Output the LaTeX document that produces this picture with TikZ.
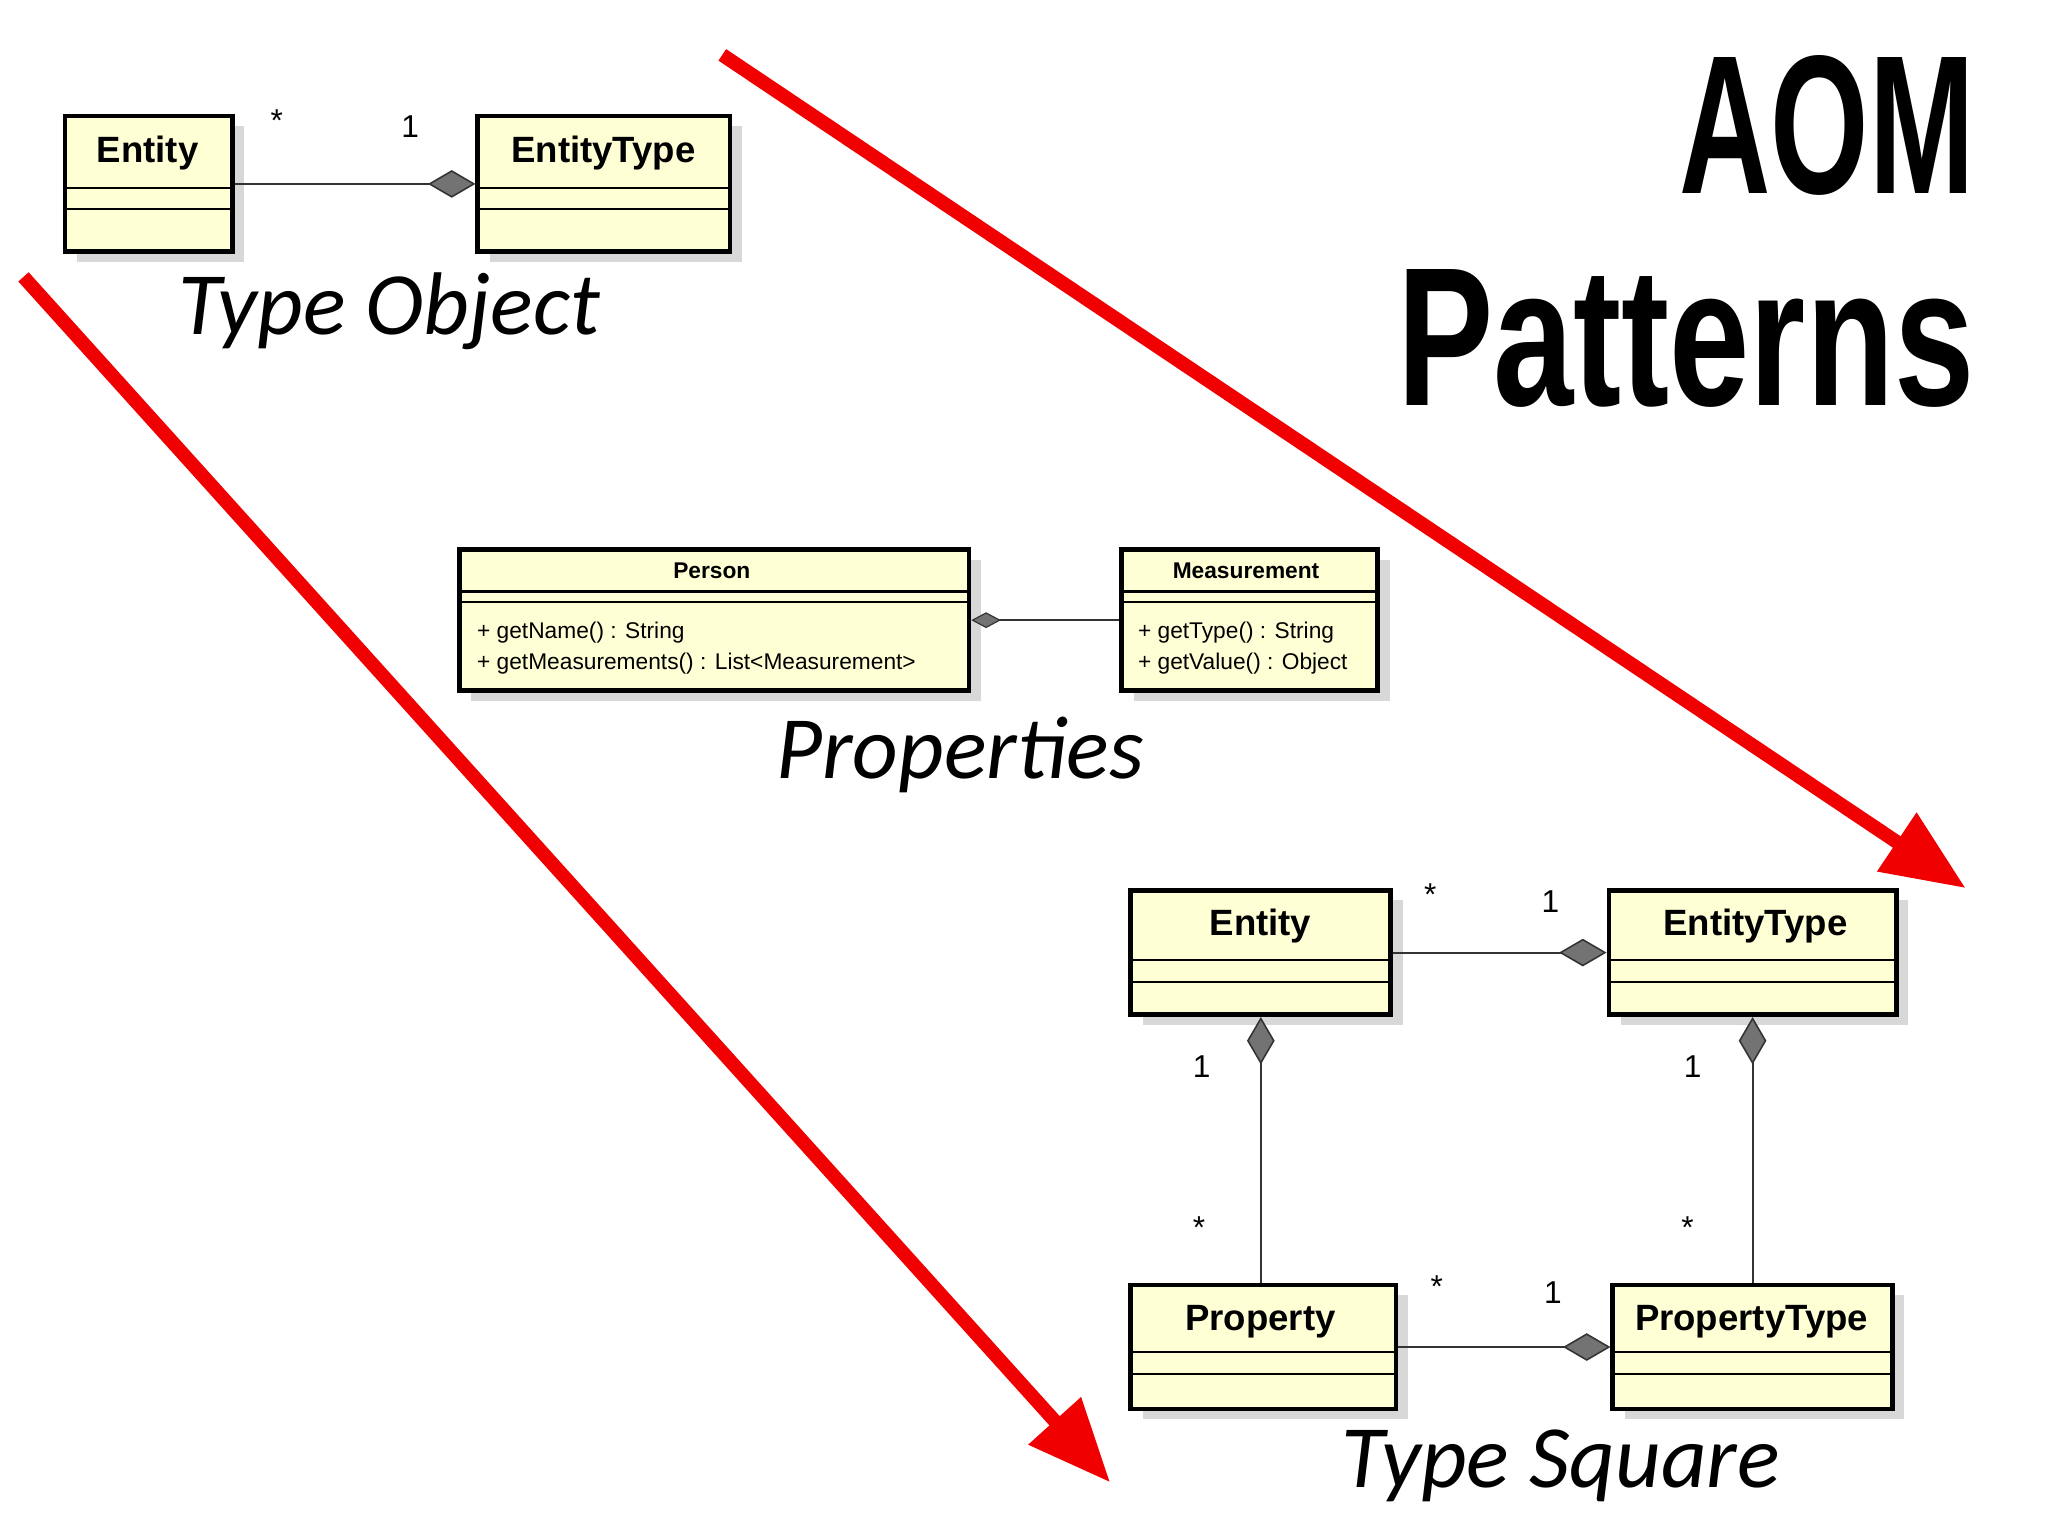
\documentclass[tikz,border=0pt]{standalone}
\usepackage{fontspec}
\setmainfont{Liberation Sans}
\newfontfamily\carlitofont{Carlito}
\usetikzlibrary{arrows.meta,shadows}
\tikzset{
 cls/.style={draw=black,line width=2.4pt,fill={rgb,255:red,255;green,255;blue,214},
   drop shadow={shadow xshift=6pt,shadow yshift=-5pt,fill=black!25,opacity=0.6},inner sep=0,anchor=north west},
 clsname/.style={font=\bfseries\fontsize{18.5}{22}\selectfont},
 smallname/.style={font=\bfseries\fontsize{11.5}{14}\selectfont},
 meth/.style={font=\fontsize{11.5}{14}\selectfont,anchor=west,inner sep=0},
 mult/.style={font=\fontsize{16}{18}\selectfont},
 assoc/.style={line width=1.1pt,draw=black!80},
 bigdia/.style={{Diamond[length=24pt,width=14pt,fill=black!55,line width=0.8pt]}-},
 smalldia/.style={{Diamond[length=15pt,width=8pt,fill=black!55,line width=0.6pt]}-},
 title/.style={font=\carlitofont\itshape\fontsize{45}{48}\selectfont},
 redarrow/.style={draw={rgb,255:red,240;green,0;blue,0},line width=7pt,-{Triangle[length=42pt,width=34pt]}},
}
\newcommand{\umlbox}[7]{% name x1 y1 x2 y2 d1 d2
 \node[cls,minimum width={(#4-#2)*0.6607pt},minimum height={(#5-#3)*0.6607pt}] (#1) at (#2,#3) {};
 \draw[line width=1.2pt] (#2,#6) -- (#4,#6);
 \draw[line width=1.2pt] (#2,#7) -- (#4,#7);
}
\begin{document}
\begin{tikzpicture}[x=0.6607pt,y=-0.6607pt]
\useasboundingbox (0,0) rectangle (1568,1175.5);
\fill[white] (0,0) rectangle (1568,1175.5);
% Type Object
\umlbox{e1}{48}{87}{176}{191}{144}{160}
\umlbox{et1}{364}{87}{557}{191}{144}{160}
\node[clsname] (e1n) at (113,117) {Entity};
\node[clsname] (et1n) at (462,117) {EntityType};
\draw[assoc,bigdia] (et1.west) -- (e1.east);
\node[mult] (m1) at (212,92) {*};
\node[mult] (m2) at (314,97) {1};
\node[title] (t1) at (298,238) {Type Object};
% Properties
\umlbox{p}{350}{419}{740}{527}{453}{461}
\umlbox{m}{857}{419}{1053}{527}{453}{461}
\node[smallname] (pn) at (545,437) {Person};
\node[smallname] (mn) at (954,437) {Measurement};
\node[meth] (p1) at (365,484) {+ getName() : String};
\node[meth] (p2) at (365,508) {+ getMeasurements() : List<Measurement>};
\node[meth] (m1a) at (871,484) {+ getType() : String};
\node[meth] (m2a) at (871,508) {+ getValue() : Object};
\draw[assoc,smalldia] (p.east) -- (m.west);
\node[title] (t2) at (735,578) {Properties};
% Type Square
\umlbox{e2}{864}{680}{1063}{775}{735}{752}
\umlbox{et2}{1230}{680}{1450}{775}{735}{752}
\umlbox{pr}{864}{982}{1067}{1077}{1035}{1052}
\umlbox{pt}{1233}{982}{1447}{1077}{1035}{1052}
\node[clsname] (e2n) at (965,709) {Entity};
\node[clsname] (et2n) at (1344,709) {EntityType};
\node[clsname] (prn) at (965,1012) {Property};
\node[clsname] (ptn) at (1341,1012) {PropertyType};
\draw[assoc,bigdia] (et2.west) -- (e2.east);
\draw[assoc,bigdia] (pt.west) -- (pr.east);
\draw[assoc,bigdia] (e2.south) -- (pr.north-|e2.south);
\draw[assoc,bigdia] (et2.south) -- (pt.north-|et2.south);
\node[mult] at (1095,685) {*};
\node[mult] at (1187,690) {1};
\node[mult] at (920,817) {1};
\node[mult] at (918,940) {*};
\node[mult] at (1296,817) {1};
\node[mult] at (1292,940) {*};
\node[mult] at (1100,985) {*};
\node[mult] at (1189,990) {1};
\node[title] (t3) at (1195,1122) {Type Square};
% AOM
\node[font=\bfseries\fontsize{100}{100}\selectfont,xscale=0.64,anchor=north east,inner sep=0] (aom) at (1512,42) {AOM};
\node[font=\bfseries\fontsize{100}{100}\selectfont,xscale=0.73,anchor=north east,inner sep=0] (pat) at (1512,206) {Patterns};
% red arrows
\coordinate (a1s) at (553,42); \coordinate (a1e) at (1505,680);
\coordinate (a2s) at (18,212); \coordinate (a2e) at (850,1135);
\draw[redarrow] (a1s) -- (a1e);
\draw[redarrow] (a2s) -- (a2e);
\end{tikzpicture}
\end{document}
